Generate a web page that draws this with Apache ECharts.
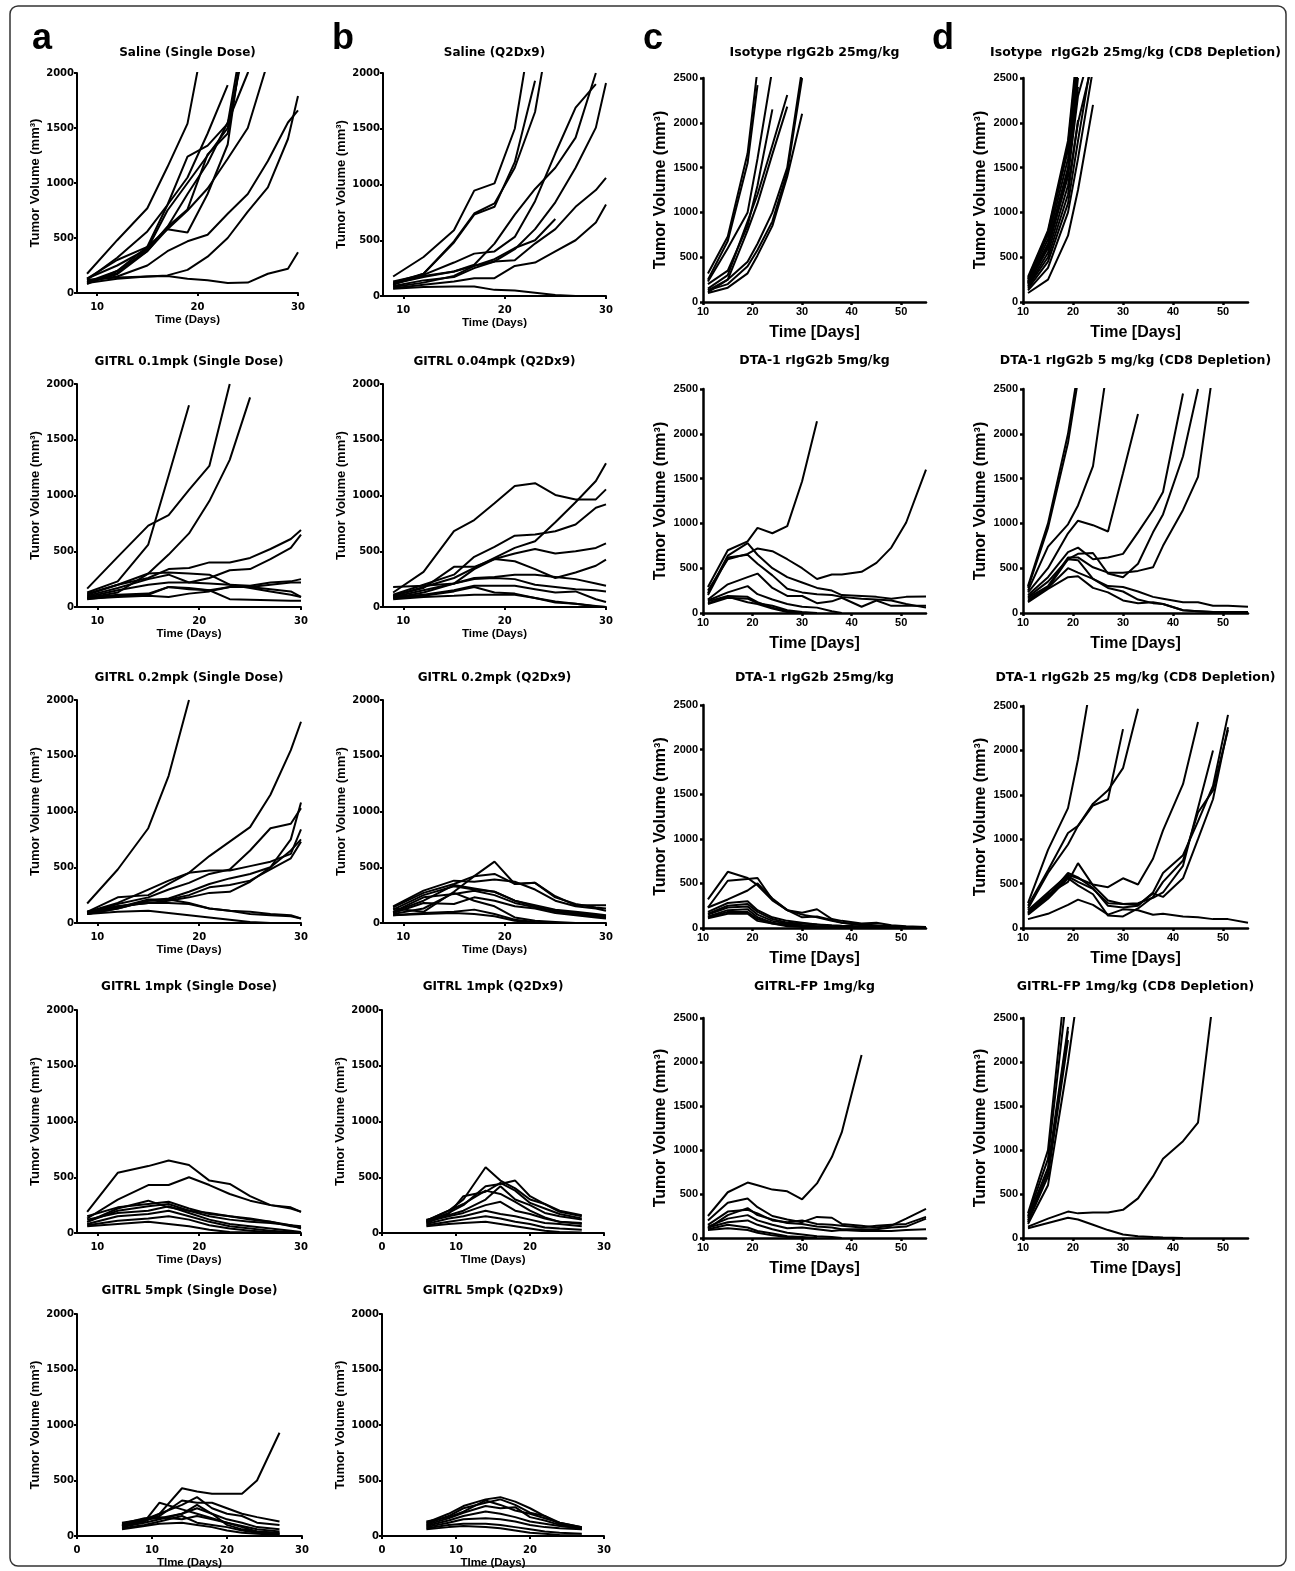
<!DOCTYPE html>
<html><head><meta charset="utf-8">
<script src="https://cdn.jsdelivr.net/npm/echarts@6/dist/echarts.min.js"></script>
<style>html,body{margin:0;padding:0;background:#fff}#c{width:1295px;height:1571px}</style>
</head><body><div id="c"></div>
<script>
// ---------------- DATA ----------------
const DAYS_AB = [9,12,15,17,19,21,23,25,27,29,30];
const DAYS_Q  = [6,9,11,14,16,18,20,22,24,27];
const DAYS_CD = [11,15,19,21,24,27,30,33,36,38,42,45,48,51,55];
const TICKS_AB = [10,20,30];
const TICKS_Q  = [0,10,20,30];
const TICKS_CD = [10,20,30,40,50];

const saline_single = [
 [175,480,770,1145,1540,2500],
 [120,320,560,800,1050,1450,1890],
 [100,180,400,750,1000,1250,1500,2400],
 [90,170,380,600,760,1260,1450,2500],
 [80,200,420,580,550,900,1350,2600],
 [130,300,420,800,1240,1340,1540,2600],
 [130,250,400,600,900,1180,1550,2000,2600],
 [100,200,380,580,750,950,1220,1500,2100],
 [90,130,150,160,210,330,500,740,960,1400,1790],
 [110,150,250,380,470,530,720,900,1200,1550,1660],
 [120,140,150,155,130,115,90,95,175,220,370]
];
const saline_q2 = [
 [175,350,590,945,1010,1500,2600],
 [120,200,480,730,800,1200,1930],
 [100,200,490,740,830,1150,1650,2700],
 [110,170,220,270,330,430,500,690],
 [110,180,220,280,470,730,960,1150,1420,2000],
 [130,190,300,380,400,530,850,1280,1690,1900],
 [90,140,170,250,310,420,600,840,1150,1510,1910],
 [80,120,180,270,310,320,470,600,800,950,1060],
 [70,100,130,160,160,270,300,400,500,660,820],
 [65,80,85,85,55,50,30,10,0]
];
const gitrl01_single = [
 [165,450,730,825,1050,1265,2000],
 [130,230,560,1180,1810],
 [120,200,300,470,660,950,1320,1880],
 [110,200,260,340,350,400,400,440,520,610,690],
 [100,170,250,290,220,260,330,340,430,530,650],
 [80,130,300,310,300,290,200,170,140,110,90],
 [90,150,200,220,220,210,200,190,220,230,250],
 [80,110,120,180,170,150,180,180,200,220,220],
 [70,100,110,180,160,150,70,65,60,55,55],
 [75,90,100,90,120,140,180,180,160,140,90]
];
const gitrl004_q2 = [
 [130,315,680,780,930,1085,1110,1005,965,965,1055],
 [100,180,260,350,440,530,590,760,940,1130,1290],
 [110,200,290,450,540,640,650,680,740,890,920],
 [100,170,360,360,430,480,520,480,500,530,570],
 [90,150,210,340,430,410,340,260,310,370,425],
 [80,130,210,260,270,290,290,270,250,210,190],
 [180,190,210,250,260,250,200,180,160,150,140],
 [90,110,150,190,190,190,160,130,140,70,45],
 [80,100,140,180,130,120,80,40,30,10,0],
 [70,90,100,110,110,110,80,50,30,5,0]
];
const gitrl02_single = [
 [175,480,850,1320,2000],
 [100,180,300,380,450,600,730,860,1150,1550,1805],
 [90,170,230,300,360,440,480,650,850,890,1030],
 [80,130,200,220,280,350,400,440,500,750,1080],
 [100,230,250,350,450,470,470,510,550,620,840],
 [90,150,180,200,230,270,280,370,500,650,750],
 [100,140,210,210,250,320,340,380,480,580,730],
 [100,150,180,180,170,130,110,80,70,60,40],
 [80,130,200,210,180,130,110,100,80,70,40],
 [80,100,110,90,70,50,30,10,0]
];
const gitrl02_q2 = [
 [130,100,280,420,550,350,360,240,160,160,160],
 [140,270,350,420,440,350,360,230,170,140,130],
 [150,290,380,370,390,370,300,200,150,130,110],
 [120,250,330,300,280,200,160,120,100,80,70],
 [100,230,260,290,250,180,140,110,90,70,60],
 [90,180,170,230,200,150,130,90,70,50,40],
 [80,130,270,200,150,50,20,10,0],
 [70,90,100,120,80,30,10,0],
 [70,80,90,80,60,20,5,0],
 [100,200,340,310,280,200,150,100,80,60,50]
];
const gitrl1_single = [
 [190,540,600,650,610,470,440,330,250,230,190],
 [130,300,430,430,500,430,350,290,250,220,190],
 [150,230,260,280,220,170,150,120,100,60,50],
 [100,200,240,260,200,150,120,100,90,70,60],
 [120,180,200,240,180,120,80,60,40,20,10],
 [80,150,170,200,150,100,60,40,20,10,0],
 [70,110,130,150,120,70,40,20,10,0,0],
 [60,80,100,80,60,30,10,5,0],
 [100,220,290,230,200,180,150,130,100,70,40]
];
const gitrl1_q2 = [
 [110,200,300,590,470,400,300,260,200,160],
 [100,180,250,420,440,470,330,260,190,150],
 [90,170,330,370,450,380,270,220,170,130],
 [120,160,200,300,420,300,250,180,150,120],
 [100,150,180,250,280,200,170,130,100,90],
 [80,130,150,200,170,150,120,90,80,60],
 [70,100,120,150,130,100,80,50,40,30],
 [60,80,90,100,80,60,40,20,10,5],
 [110,200,260,380,350,280,200,140,100,80]
];
const gitrl5_single = [
 [120,150,200,430,400,380,380,380,500,930],
 [100,140,180,320,300,300,250,200,170,130],
 [90,130,200,280,350,250,200,180,120,100],
 [80,120,150,200,250,200,150,120,80,60],
 [110,160,170,150,180,150,120,90,60,40],
 [70,100,130,180,120,100,80,50,30,20],
 [60,90,110,120,100,80,50,30,20,10],
 [100,130,300,240,200,160,120,80,40,20],
 [90,150,160,200,280,200,100,60,40,30]
];
const gitrl5_q2 = [
 [120,200,270,330,350,310,250,180,120,80],
 [110,180,250,300,330,280,210,180,110,70],
 [100,160,210,270,250,260,170,140,100,60],
 [90,140,180,220,200,170,130,110,90,70],
 [80,120,150,160,150,130,100,80,70,60],
 [70,100,110,110,100,80,60,40,30,20],
 [60,80,90,80,70,50,30,20,10,5],
 [130,170,220,320,280,230,200,160,120,80]
];
const iso_25 = [
 [317,730,1660,2600],
 [250,680,1550,2420],
 [230,600,1000,1600,2600],
 [200,350,850,1300,2150],
 [150,300,900,1200,1750,2310],
 [130,250,800,1100,1650,2180],
 [110,250,450,650,1000,1500,2600],
 [100,160,320,520,850,1400,2100],
 [130,200,400,580,900,1450,2500]
];
const iso_25_cd8 = [
 [280,800,1800,2900],
 [250,750,1700,2700],
 [230,700,1600,2600],
 [220,650,1500,2500],
 [200,600,1400,2300,2900],
 [180,550,1300,2000,2700],
 [170,500,1200,2030],
 [150,450,1100,1800,2800],
 [130,380,1000,1600,2600],
 [100,250,740,1250,2200],
 [260,780,1750,2800],
 [210,620,1450,2400]
];
const dta5 = [
 [290,700,800,950,890,970,1470,2140],
 [250,600,660,720,690,600,500,380,430,430,460,560,730,1010,1600],
 [220,640,780,650,500,400,340,280,250,200,190,180,160,180,185],
 [200,620,650,550,420,270,230,210,200,180,160,150,140,100,60],
 [150,320,400,440,280,190,190,110,130,170,70,140,80,80,80],
 [140,230,300,210,150,100,70,60,20,0],
 [130,190,180,120,60,20,0],
 [110,180,120,100,50,10,0],
 [100,170,160,110,80,30,10,0]
];
const dta5_cd8 = [
 [300,1000,2000,2700],
 [280,950,1900,2600],
 [250,740,990,1200,1640,2800],
 [230,500,890,1030,980,910,1560,2220],
 [200,400,680,730,600,620,660,900,1150,1350,2450],
 [180,350,600,660,670,440,400,550,900,1100,1750,2500],
 [170,300,620,620,510,450,450,470,510,750,1150,1520,2700],
 [130,280,600,590,380,300,290,240,180,160,120,120,80,80,70],
 [120,270,400,410,280,230,140,110,120,100,30,20,10,10,10],
 [150,280,500,450,380,280,240,150,110,100,30,20,10,10,10]
];
const dta25 = [
 [320,630,560,480,310,200,150,120,80,60,40,30,20,10,10],
 [230,530,550,560,320,200,170,210,100,80,50,60,30,20,10],
 [230,320,420,500,330,200,120,130,90,60,30,20,10,5,0],
 [180,280,300,200,120,80,60,40,30,25,20,15,10,5,0],
 [160,250,270,180,100,60,50,40,20,15,10,5,0,0,0],
 [150,230,240,150,80,50,30,20,10,5,0,0,0,0,0],
 [130,200,210,120,60,40,30,15,10,5,0,0,0,0,0],
 [120,180,180,100,50,30,20,10,0,0,0,0,0,0,0],
 [110,160,160,80,50,20,10,5,0,0,0,0,0,0,0]
];
const dta25_cd8 = [
 [280,880,1350,1900,2900],
 [250,650,1070,1150,1400,1550,1800,2470],
 [220,620,940,1150,1380,1450,2240],
 [200,400,600,560,490,460,560,490,780,1100,1620,2320],
 [180,380,520,730,480,310,270,280,340,400,700,1350,2000],
 [170,360,620,570,450,250,230,250,400,620,820,1200,1600,2400],
 [160,350,580,520,440,280,270,260,390,350,560,1000,1450,2260],
 [150,330,560,480,380,140,130,220,350,520,760,1300,1550,2230],
 [100,160,260,320,260,150,210,200,150,160,130,120,100,100,60]
];
const gitrlfp = [
 [250,520,630,600,550,530,440,620,920,1200,2080],
 [200,400,450,350,250,210,180,240,230,160,140,120,140,220,330],
 [150,300,320,280,200,180,200,160,150,140,120,140,150,160,240],
 [130,220,260,200,150,110,120,100,80,90,80,80,80,90,100],
 [120,180,200,150,100,60,40,20,10,0],
 [100,150,120,80,50,20,10,0],
 [90,110,90,60,30,10,0],
 [110,260,340,260,210,170,160,130,120,100,100,100,120,130,220]
];
const gitrlfp_cd8 = [
 [280,1000,3200],
 [250,900,2900],
 [230,800,2400],
 [200,750,2350],
 [180,700,2250],
 [160,600,2000,2800],
 [130,220,300,280,290,290,320,450,700,900,1100,1310,2700],
 [110,170,230,210,150,90,40,20,10,5,0]
];

// ---------------- LAYOUT ----------------
const FONT_AB = '"DejaVu Sans", sans-serif';
const FONT_CD = '"Liberation Sans", Arial, sans-serif';
const AB = {kind:'ab', days:DAYS_AB, xMin:8, xMax:30, xTicks:TICKS_AB, yMax:2000, xName:'Time (Days)'};
const ABQ = {kind:'ab', days:DAYS_Q, xMin:0, xMax:30, xTicks:TICKS_Q, yMax:2000, xName:'TIme (Days)'};
const CD = {kind:'cd', days:DAYS_CD, xMin:10, xMax:55, xTicks:TICKS_CD, yMax:2500, xName:'Time [Days]'};
const panels = [
 {...AB, title:'Saline (Single Dose)', rows:saline_single, pos:[77,73,221,220], ty:52.5},
 {...AB, title:'Saline (Q2Dx9)', rows:saline_q2, pos:[383,73,223,223], ty:52.5},
 {...CD, title:'Isotype rIgG2b 25mg/kg', rows:iso_25, pos:[703,78,223,224], ty:52.5},
 {...CD, title:'Isotype  rIgG2b 25mg/kg (CD8 Depletion)', rows:iso_25_cd8, pos:[1023,78,225,224], ty:52.5},
 {...AB, title:'GITRL 0.1mpk (Single Dose)', rows:gitrl01_single, pos:[77,384,224,223], ty:362},
 {...AB, title:'GITRL 0.04mpk (Q2Dx9)', rows:gitrl004_q2, pos:[383,384,223,223], ty:362},
 {...CD, title:'DTA-1 rIgG2b 5mg/kg', rows:dta5, pos:[703,389,223,224], ty:361},
 {...CD, title:'DTA-1 rIgG2b 5 mg/kg (CD8 Depletion)', rows:dta5_cd8, pos:[1023,389,225,224], ty:361},
 {...AB, title:'GITRL 0.2mpk (Single Dose)', rows:gitrl02_single, pos:[77,700,224,223], ty:677.5},
 {...AB, title:'GITRL 0.2mpk (Q2Dx9)', rows:gitrl02_q2, pos:[383,700,223,223], ty:677.5},
 {...CD, title:'DTA-1 rIgG2b 25mg/kg', rows:dta25, pos:[703,705,223,223], ty:678},
 {...CD, title:'DTA-1 rIgG2b 25 mg/kg (CD8 Depletion)', rows:dta25_cd8, pos:[1023,706,225,222], ty:678},
 {...AB, title:'GITRL 1mpk (Single Dose)', rows:gitrl1_single, pos:[77,1010,224,223], ty:986.5},
 {...ABQ, title:'GITRL 1mpk (Q2Dx9)', rows:gitrl1_q2, pos:[382,1010,222,223], ty:986.5},
 {...CD, title:'GITRL-FP 1mg/kg', rows:gitrlfp, pos:[703,1018,223,220], ty:986.5},
 {...CD, title:'GITRL-FP 1mg/kg (CD8 Depletion)', rows:gitrlfp_cd8, pos:[1023,1018,225,220], ty:986.5},
 {...ABQ, title:'GITRL 5mpk (Single Dose)', rows:gitrl5_single, pos:[77,1314,225,222], ty:1291},
 {...ABQ, title:'GITRL 5mpk (Q2Dx9)', rows:gitrl5_q2, pos:[382,1314,222,222], ty:1291}
];

const grids=[], xAxes=[], yAxes=[], series=[];
const LETTER_FONT = 'bold 36px "Liberation Sans", Arial, sans-serif';
const graphics = [
 {type:'rect', shape:{x:10,y:6,width:1276,height:1560,r:8}, style:{fill:'none', stroke:'#333', lineWidth:1.5}, silent:true},
 {type:'text', style:{text:'a', x:32, y:39.5, font:LETTER_FONT, fill:'#000', textVerticalAlign:'middle'}},
 {type:'text', style:{text:'b', x:332, y:39.5, font:LETTER_FONT, fill:'#000', textVerticalAlign:'middle'}},
 {type:'text', style:{text:'c', x:643, y:39.5, font:LETTER_FONT, fill:'#000', textVerticalAlign:'middle'}},
 {type:'text', style:{text:'d', x:932, y:39.5, font:LETTER_FONT, fill:'#000', textVerticalAlign:'middle'}}
];
const plain = v => String(v);

panels.forEach((p,i)=>{
  const cd = p.kind==='cd';
  const [l,t,w,h] = p.pos;
  grids.push({left:l, top:t, width:w, height:h, containLabel:false, outerBoundsMode:'none'});
  const lw = cd ? 2.5 : 2;
  xAxes.push({
    type:'value', gridIndex:i, min:p.xMin, max:p.xMax,
    axisLine:{show:true, onZero:false, lineStyle:{color:'#000', width:lw}},
    axisTick:{show:true, length:3, customValues:p.xTicks, lineStyle:{color:'#000', width:lw}},
    axisLabel:{customValues:p.xTicks, formatter:plain, margin: cd?4:9, color:'#000', fontWeight:'bold',
               fontSize: cd?11:10, fontFamily: cd?FONT_CD:FONT_AB},
    splitLine:{show:false},
    name:p.xName, nameLocation:'middle', nameGap: cd?23:21,
    nameTextStyle:{color:'#000', fontWeight:'bold', fontSize: cd?16:11.5, fontFamily:FONT_CD}
  });
  yAxes.push({
    type:'value', gridIndex:i, min:0, max:p.yMax, interval:500,
    axisLine:{show:true, onZero:false, lineStyle:{color:'#000', width:lw}},
    axisTick:{show:true, length:3, lineStyle:{color:'#000', width:lw}},
    axisLabel:{formatter:plain, margin: cd?5:3, color:'#000', fontWeight:'bold',
               fontSize: cd?11:10, fontFamily: cd?FONT_CD:FONT_AB},
    splitLine:{show:false},
    name:'Tumor Volume (mm³)', nameLocation:'middle', nameGap: cd?34:32,
    nameTextStyle:{color:'#000', fontWeight:'bold', fontSize: cd?16:13, fontFamily:FONT_CD}
  });
  graphics.push({type:'text', style:{text:p.title, x:l+w/2, y:p.ty, textAlign:'center', textVerticalAlign:'middle',
     font:'bold ' + (cd?12.5:12) + 'px "DejaVu Sans", sans-serif', fill:'#000'}});
  p.rows.forEach(r=>{
    series.push({
      type:'line', xAxisIndex:i, yAxisIndex:i,
      data:r.map((v,k)=>[p.days[k], v]),
      showSymbol:false, symbol:'none', clip:true, silent:true,
      lineStyle:{color:'#000', width:2}
    });
  });
});

const chart = echarts.init(document.getElementById('c'), null, {renderer:'canvas'});
chart.setOption({
  animation:false, backgroundColor:'#fff',
  grid:grids, xAxis:xAxes, yAxis:yAxes, series:series, graphic:graphics
});
</script></body></html>
